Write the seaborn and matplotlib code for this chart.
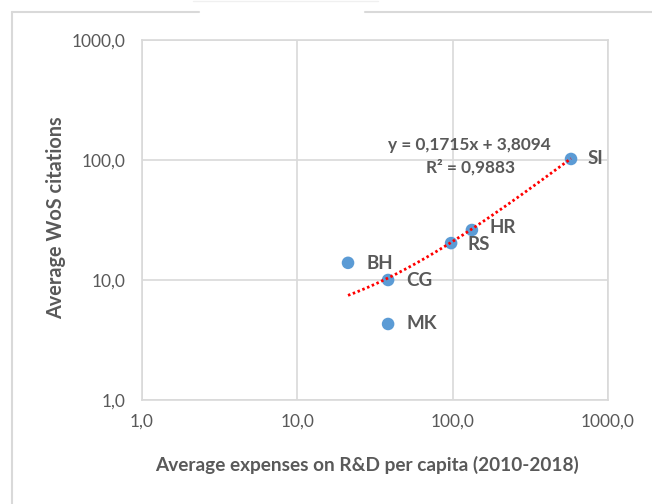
import numpy as np
import pandas as pd
import matplotlib
matplotlib.use("Agg")
import matplotlib.pyplot as plt
import seaborn as sns
from matplotlib.lines import Line2D
from matplotlib.ticker import FixedLocator, FuncFormatter

# ---------------- data ----------------
countries = ["BH", "CG", "MK", "RS", "HR", "SI"]
expenses = [21.2, 38.4, 38.4, 97.7, 133.0, 578.0]
citations = [13.9, 10.0, 4.3, 20.3, 26.1, 102.0]
trend_slope = 0.1715
trend_intercept = 3.8094
r_squared = 0.9883
ticks = [1, 10, 100, 1000]

df = pd.DataFrame({"country": countries, "x": expenses, "y": citations})

sns.set_theme(style="white")
plt.rcParams["font.family"] = ["Lato", "DejaVu Sans"]

grey = "#595959"
W, H = 652, 504
fig = plt.figure(figsize=(6.52, 5.04), dpi=100)
ax = fig.add_axes([142 / W, 1 - 400 / H, 466 / W, 360 / H])

ax.set_xscale("log")
ax.set_yscale("log")
ax.set_xlim(1, 1000)
ax.set_ylim(1, 1000)

# trend line (linear fit drawn on log axes)
tx = np.linspace(min(expenses), max(expenses), 400)
ty = trend_slope * tx + trend_intercept
ax.plot(tx, ty, color="#FF0000", linestyle=(0, (0.9, 0.95)), linewidth=2.0, zorder=3)

sns.scatterplot(data=df, x="x", y="y", ax=ax, s=82, color="#5B9BD5",
                edgecolor="none", zorder=2, legend=False)
ax.set_xlabel("")
ax.set_ylabel("")

offsets = {"BH": (13, -0.5), "CG": (13, 0), "MK": (13, 0),
           "RS": (12, -1), "HR": (13, 2), "SI": (12, 0)}
for c, x, y in zip(countries, expenses, citations):
    dx, dy = offsets[c]
    ax.annotate(c, (x, y), xytext=(dx, dy), textcoords="offset points",
                ha="left", va="center", fontsize=13.5, fontweight="bold", color=grey)

eq = "y = {}x + {}".format(f"{trend_slope:.4f}".replace(".", ","),
                           f"{trend_intercept:.4f}".replace(".", ","))
ax.text(0.702, 0.708, eq, transform=ax.transAxes, ha="center", va="center",
        fontsize=12.4, fontweight="bold", color=grey)
ax.text(0.705, 0.647, "R² = " + f"{r_squared:.4f}".replace(".", ","),
        transform=ax.transAxes, ha="center", va="center", fontsize=12.4,
        fontweight="bold", color=grey)

fmt = FuncFormatter(lambda v, p: f"{v:.1f}".replace(".", ","))
for axis in (ax.xaxis, ax.yaxis):
    axis.set_major_locator(FixedLocator(ticks))
    axis.set_major_formatter(fmt)
    axis.set_minor_locator(FixedLocator([]))
ax.tick_params(axis="both", labelsize=12.5, colors=grey, length=0)
ax.tick_params(axis="x", pad=10)
ax.tick_params(axis="y", pad=12)

ax.grid(True, color="#D9D9D9", linewidth=1.2)
for s in ax.spines.values():
    s.set_color("#D9D9D9")
    s.set_linewidth(1.2)

fig.text(367 / W, 1 - 465 / H, "Average expenses on R&D per capita (2010-2018)",
         ha="center", va="center", fontsize=13.7, fontweight="bold", color=grey)
fig.text(56 / W, 1 - 218 / H, "Average WoS citations", rotation=90,
         ha="center", va="center", fontsize=14.3, fontweight="bold", color=grey)

# outer chart border (partially cut)
bc = "#D9D9D9"
fig.add_artist(Line2D([12 / W, 12 / W], [0, 1 - 12 / H], color=bc, lw=1.5))
fig.add_artist(Line2D([12 / W, 199 / W], [1 - 12 / H] * 2, color=bc, lw=1.5))
fig.add_artist(Line2D([365 / W, 1], [1 - 12 / H] * 2, color=bc, lw=1.5))
fig.add_artist(Line2D([193 / W, 378 / W], [1 - 1 / H] * 2, color="#F0F0F0", lw=1))

fig.savefig("out.png", dpi=100)
